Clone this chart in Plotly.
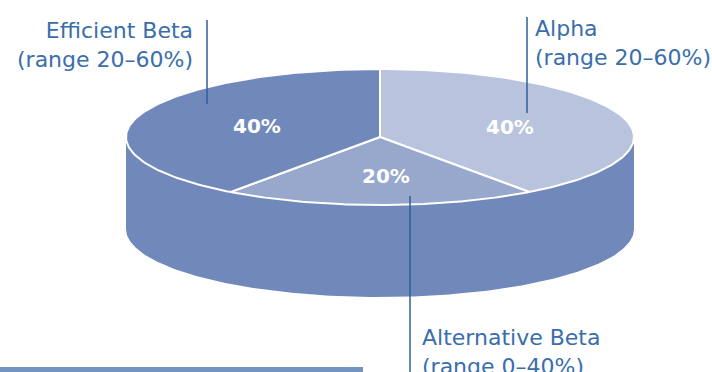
import numpy as np
import plotly.graph_objects as go

# data
categories = ["Alpha", "Alternative Beta", "Efficient Beta"]
values = [40, 20, 40]
ranges = ["range 20–60%", "range 0–40%", "range 20–60%"]
colors = ["#B8C4DE", "#97A8CC", "#7189BA"]
side_color = "#7189BA"

W, H = 712, 372
cx, cy, a, b, depth = 380, 137, 254, 68, 92

def pt(theta_deg, r=1.0):
    t = np.radians(theta_deg)
    return cx + a * r * np.sin(t), cy - b * r * np.cos(t)

fig = go.Figure()

# side (front half of cylinder)
th = np.linspace(90, 270, 200)
xs_top, ys_top = pt(th)
side_x = list(xs_top) + list(xs_top[::-1])
side_y = list(ys_top) + list((ys_top + depth)[::-1])
fig.add_trace(go.Scatter(x=side_x, y=side_y, fill="toself", fillcolor=side_color,
                         line=dict(width=0), mode="lines", hoverinfo="skip", showlegend=False))

# top slices
total = sum(values)
start = 0.0
for v, c in zip(values, colors):
    span = 360.0 * v / total
    th = np.linspace(start, start + span, 120)
    x, y = pt(th)
    fig.add_trace(go.Scatter(x=[cx] + list(x) + [cx], y=[cy] + list(y) + [cy],
                             fill="toself", fillcolor=c, line=dict(color="white", width=2),
                             mode="lines", hoverinfo="skip", showlegend=False))
    start += span

# percent labels (positions of the text)
pct_pos = [(510, 127), (386, 176), (257, 126)]
for v, (px, py) in zip(values, pct_pos):
    fig.add_annotation(x=px, y=py, text=f"{v}%", showarrow=False,
                       xanchor="center", yanchor="middle",
                       font=dict(family="DejaVu Sans", size=20, color="white", weight="bold"))

label_font = dict(family="DejaVu Sans", size=22, color="#3A6EAA")
line_col = "#2E5F9A"

# Alpha label
fig.add_shape(type="line", x0=527, x1=527, y0=17, y1=113, line=dict(color=line_col, width=1.5))
fig.add_annotation(x=533, y=43, text=f"{categories[0]}<br>({ranges[0]})", showarrow=False,
                   xanchor="left", yanchor="middle", align="left", font=label_font)
# Efficient Beta label
fig.add_shape(type="line", x0=207, x1=207, y0=20, y1=104, line=dict(color=line_col, width=1.5))
fig.add_annotation(x=195, y=45, text=f"{categories[2]}<br>({ranges[2]})", showarrow=False,
                   xanchor="right", yanchor="middle", align="right", font=label_font)
# Alternative Beta label
fig.add_shape(type="line", x0=410, x1=410, y0=196, y1=372, line=dict(color=line_col, width=1.5))
fig.add_annotation(x=420, y=352, text=f"{categories[1]}<br>({ranges[1]})", showarrow=False,
                   xanchor="left", yanchor="middle", align="left", font=label_font)

# bottom bar
fig.add_shape(type="rect", x0=0, x1=363, y0=367, y1=372, fillcolor="#7393C0", line=dict(width=0))

fig.update_layout(width=W, height=H, margin=dict(l=0, r=0, t=0, b=0),
                  paper_bgcolor="white", plot_bgcolor="white",
                  xaxis=dict(range=[0, W], visible=False, fixedrange=True),
                  yaxis=dict(range=[H, 0], visible=False, fixedrange=True))
fig.write_html("out.html")
